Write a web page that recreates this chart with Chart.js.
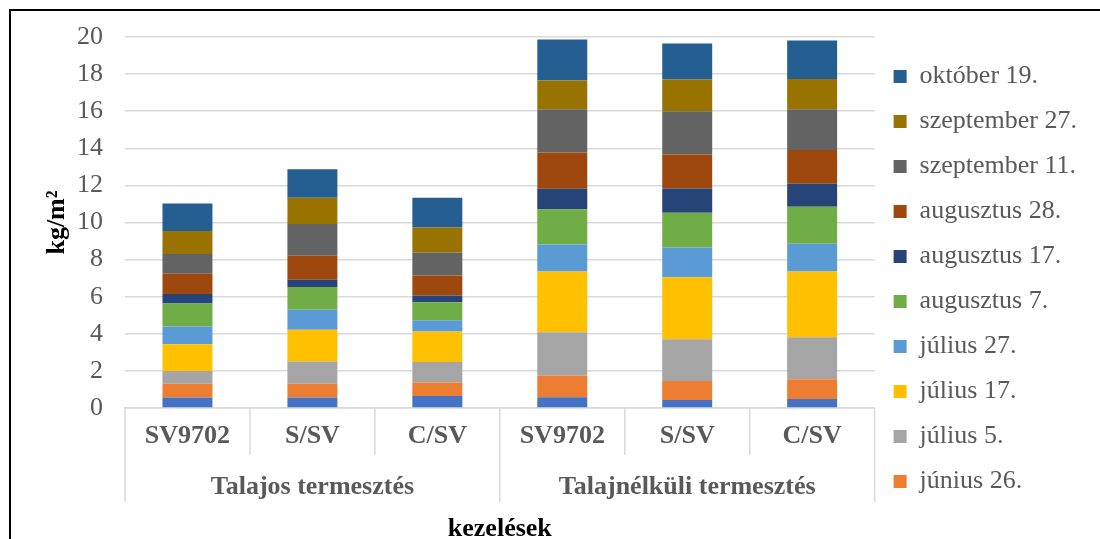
<!DOCTYPE html>
<html>
<head>
<meta charset="utf-8">
<script src="https://cdn.jsdelivr.net/npm/chart.js@4/dist/chart.umd.min.js"></script>
<style>
  html, body { margin: 0; padding: 0; background: #fff; overflow: hidden; }
  #frame { position: absolute; left: 9px; top: 9px; border-top: 2px solid #000; border-left: 2px solid #000; }
  canvas { display: block; }
</style>
</head>
<body>
<div id="frame"><canvas id="chart" width="1089" height="528"></canvas></div>
<script>
// categories and groups
var categories = ["SV9702", "S/SV", "C/SV", "SV9702", "S/SV", "C/SV"];
var groupNames = ["Talajos termesztés", "Talajnélküli termesztés"];
var groupSizes = [3, 3];

// harvest dates, bottom to top (first one is cut from the legend)
var seriesNames = ["június 16.", "június 26.", "július 5.", "július 17.", "július 27.",
    "augusztus 7.", "augusztus 17.", "augusztus 28.", "szeptember 11.", "szeptember 27.", "október 19."];
var seriesColors = ["#4472C4", "#ED7D31", "#A5A5A5", "#FFC000", "#5B9BD5",
    "#70AD47", "#264478", "#9E480E", "#636363", "#997300", "#255E91"];

var jun16 = [0.56, 0.56, 0.65, 0.58, 0.43, 0.49];
var jun26 = [0.75, 0.75, 0.72, 1.17, 1.03, 1.06];
var jul5  = [0.68, 1.20, 1.11, 2.34, 2.25, 2.27];
var jul17 = [1.44, 1.71, 1.64, 3.27, 3.34, 3.54];
var jul27 = [0.97, 1.08, 0.61, 1.46, 1.60, 1.49];
var aug7  = [1.24, 1.22, 0.97, 1.90, 1.87, 2.00];
var aug17 = [0.50, 0.40, 0.36, 1.10, 1.31, 1.24];
var aug28 = [1.10, 1.29, 1.08, 1.96, 1.83, 1.82];
var sep11 = [1.06, 1.71, 1.24, 2.32, 2.34, 2.19];
var sep27 = [1.24, 1.42, 1.35, 1.55, 1.71, 1.64];
var okt19 = [1.49, 1.53, 1.60, 2.21, 1.94, 2.07];
var seriesValues = [jun16, jun26, jul5, jul17, jul27, aug7, aug17, aug28, sep11, sep27, okt19];

var yTicks = [0, 2, 4, 6, 8, 10, 12, 14, 16, 18, 20];

var serif = "'Liberation Serif', 'Times New Roman', serif";
var textGray = "#595959";
var lineGray = "#d9d9d9";

// two-level category axis: separators and group names
var groupAxis = {
    id: "groupAxis",
    afterLayout: function(chart) {
        // nudge the legend column up a little
        chart.legend.top -= 9;
        chart.legend.bottom -= 9;
    },
    afterDraw: function(chart) {
        var x = chart.scales.x, ctx = chart.ctx;
        var n = categories.length;
        var pos = categories.map(function(c, i) { return x.getPixelForValue(i); });
        var step = pos[1] - pos[0];
        var top = x.top;
        var groupEdges = [0];
        groupSizes.forEach(function(s) { groupEdges.push(groupEdges[groupEdges.length - 1] + s); });

        ctx.save();
        ctx.strokeStyle = lineGray;
        ctx.lineWidth = 1.5;
        for (var i = 0; i <= n; i++) {
            var bx = i === 0 ? pos[0] - step / 2 : (i === n ? pos[n - 1] + step / 2 : (pos[i - 1] + pos[i]) / 2);
            var len = groupEdges.indexOf(i) >= 0 ? 94 : 47;
            ctx.beginPath();
            ctx.moveTo(bx, top);
            ctx.lineTo(bx, top + len);
            ctx.stroke();
        }
        ctx.fillStyle = textGray;
        ctx.font = "bold 26px " + serif;
        ctx.textAlign = "center";
        ctx.textBaseline = "middle";
        groupNames.forEach(function(g, k) {
            var a = pos[groupEdges[k]], b = pos[groupEdges[k + 1] - 1];
            ctx.fillText(g, (a + b) / 2, top + 79);
        });
        ctx.restore();
    }
};

var datasets = seriesNames.map(function(name, i) {
    return {
        label: name,
        data: seriesValues[i],
        backgroundColor: seriesColors[i],
        borderWidth: 0,
        barPercentage: 0.4,
        categoryPercentage: 1.0
    };
});

new Chart(document.getElementById("chart"), {
    type: "bar",
    data: { labels: categories, datasets: datasets },
    plugins: [groupAxis],
    options: {
        responsive: false,
        animation: false,
        devicePixelRatio: 1,
        layout: { padding: { top: 26, right: 13, bottom: 0, left: 0 } },
        plugins: {
            tooltip: { enabled: false },
            legend: {
                position: "right",
                reverse: true,
                labels: {
                    boxWidth: 13,
                    boxHeight: 13,
                    padding: 19,
                    color: textGray,
                    font: { family: serif, size: 26 },
                    filter: function(item) { return item.datasetIndex !== 0; }
                }
            }
        },
        scales: {
            x: {
                stacked: true,
                grid: { display: false, drawTicks: false },
                border: { display: true, color: lineGray, width: 1.5 },
                ticks: { color: textGray, padding: 13, font: { family: serif, size: 26, weight: "bold" } },
                title: {
                    display: true,
                    text: "kezelések",
                    color: "#000",
                    padding: { top: 0, bottom: -3 },
                    font: { family: serif, size: 26, weight: "bold", lineHeight: 1 }
                },
                afterFit: function(scale) { scale.height = 131; }
            },
            y: {
                stacked: true,
                min: 0,
                max: 20,
                grid: { color: lineGray, lineWidth: 1.5, drawTicks: true, tickLength: 22, tickColor: "rgba(0,0,0,0)" },
                border: { display: false },
                afterBuildTicks: function(scale) { scale.ticks = yTicks.map(function(v) { return { value: v }; }); },
                ticks: { color: textGray, padding: 0, font: { family: serif, size: 26 } },
                title: {
                    display: true,
                    text: "kg/m²",
                    color: "#000",
                    padding: { top: 33, bottom: 0 },
                    font: { family: serif, size: 26, weight: "bold", lineHeight: 1 }
                },
                afterFit: function(scale) { scale.width = 114; }
            }
        }
    }
});
</script>
</body>
</html>
